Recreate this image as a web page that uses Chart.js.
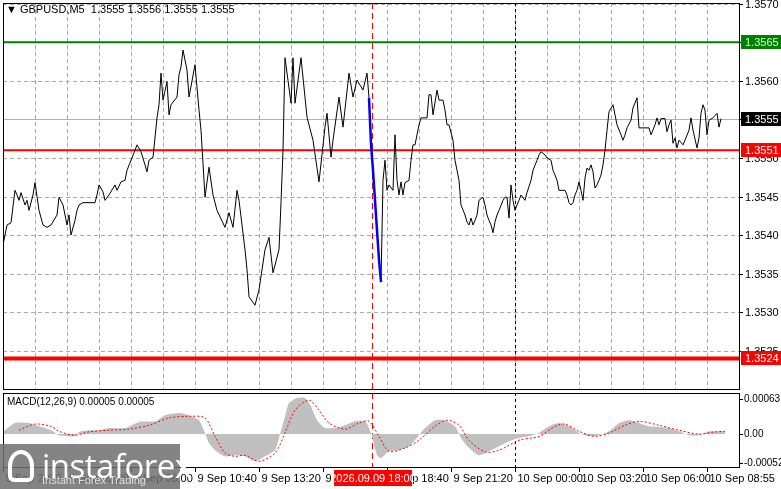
<!DOCTYPE html>
<html><head><meta charset="utf-8">
<script src="https://cdn.jsdelivr.net/npm/chart.js@4/dist/chart.umd.min.js"></script>
<style>
html,body{margin:0;padding:0;background:#fff;width:781px;height:489px;overflow:hidden;font-family:"Liberation Sans",Arial,sans-serif}
canvas{position:absolute;left:0}
#hdr{position:absolute;left:6px;top:3px;font-size:11px;color:#000}
#macdl{position:absolute;left:7px;top:396px;font-size:10px;color:#000}
#logo{position:absolute;left:0;top:444px;width:180px;height:45px;background:rgba(110,110,110,0.85);color:#fff}
#logo .a{position:absolute;left:42px;top:-1px;font-size:33px;letter-spacing:-0.5px;font-family:"Open Sans",sans-serif}
#logo .b{position:absolute;left:42px;top:30px;font-size:11px;color:#e0e0e0}
#logo .ic{position:absolute;left:8px;top:6px;width:26px;height:32px;border:4px solid #fff;border-radius:50% 50% 6px 6px;box-sizing:border-box}
</style></head><body>
<canvas id="main" width="781" height="392" style="top:0"></canvas>
<canvas id="macd" width="781" height="98" style="top:391px"></canvas>
<div id="hdr">&#9660; GBPUSD,M5&nbsp; 1.3555 1.3556 1.3555 1.3555</div>
<div id="macdl">MACD(12,26,9) 0.00005 0.00005</div>
<div id="logo"><div class="ic"></div><div class="a">instaforex</div><div class="b">Instant Forex Trading</div></div>
<script>
// ---- data ----
const priceBars = [0,2,4,6,7,8,9,11,12,13,15,16,18,20,22,24,27,28,30,32,33,34,36,37,38,40,41,43,46,47,48,50,51,53,56,57,59,61,62,64,66,67,69,71,72,73,75,77,78,79,80,82,83,84,87,88,89,90,92,93,96,98,99,100,101,103,105,107,111,113,115,117,118,121,122,123,126,128,131,133,135,138,139,140,141,144,145,146,149,152,155,158,161,162,164,165,168,170,173,175,177,180,182,183,184,185,186,187,188,189,190,191,192,193,195,196,197,198,199,200,201,203,204,205,206,208,209,210,212,213,214,215,217,218,220,221,222,223,225,226,228,229,231,232,233,234,235,236,237,238,240,241,242,243,244,245,246,247,248,250,251,252,253,254,255,256,257,258,259,261,262,264,265,267,268,269,271,272,274,275,276,277,278,280,281,282,283,284,285,286,287,288,289,290,291,292,293,294,295,296,297,298,299,300,301,302,303,305,306,307,309,310,311,312,314,315,317,318,320,321,323,324,326,327,328,329,331,332,333,334,335,336,337,338,340,341,343,344,345,347,348,349,350,351,352,353,355,356,357,358,359];
const priceClose = [1.35387,1.35413,1.35416,1.35458,1.35452,1.35445,1.35455,1.35439,1.35445,1.35432,1.35452,1.35468,1.35432,1.35413,1.35410,1.35413,1.35426,1.35449,1.35439,1.35413,1.35426,1.35400,1.35419,1.35432,1.35439,1.35442,1.35442,1.35442,1.35442,1.35452,1.35465,1.35456,1.35445,1.35452,1.35465,1.35458,1.35469,1.35471,1.35484,1.35497,1.35510,1.35517,1.35508,1.35491,1.35482,1.35497,1.35501,1.35552,1.35569,1.35610,1.35575,1.35599,1.35556,1.35569,1.35579,1.35608,1.35618,1.35640,1.35614,1.35579,1.35621,1.35562,1.35536,1.35493,1.35449,1.35488,1.35452,1.35432,1.35410,1.35429,1.35410,1.35458,1.35445,1.35381,1.35355,1.35320,1.35309,1.35329,1.35381,1.35397,1.35351,1.35381,1.35442,1.35510,1.35630,1.35571,1.35630,1.35571,1.35630,1.35553,1.35523,1.35469,1.35540,1.35558,1.35501,1.35523,1.35579,1.35540,1.35610,1.35579,1.35601,1.35588,1.35610,1.35578,1.35519,1.35484,1.35445,1.35406,1.35368,1.35339,1.35471,1.35497,1.35458,1.35465,1.35458,1.35530,1.35471,1.35452,1.35469,1.35452,1.35468,1.35471,1.35497,1.35517,1.35517,1.35543,1.35552,1.35552,1.35552,1.35582,1.35582,1.35556,1.35588,1.35575,1.35575,1.35562,1.35543,1.35543,1.35523,1.35497,1.35471,1.35439,1.35426,1.35417,1.35413,1.35422,1.35413,1.35419,1.35426,1.35445,1.35449,1.35439,1.35426,1.35419,1.35413,1.35403,1.35417,1.35426,1.35432,1.35445,1.35449,1.35449,1.35422,1.35465,1.35445,1.35432,1.35439,1.35445,1.35452,1.35445,1.35455,1.35471,1.35484,1.35497,1.35504,1.35508,1.35504,1.35500,1.35497,1.35484,1.35478,1.35471,1.35458,1.35458,1.35458,1.35452,1.35442,1.35439,1.35442,1.35452,1.35458,1.35469,1.35458,1.35445,1.35474,1.35487,1.35484,1.35491,1.35482,1.35461,1.35465,1.35471,1.35478,1.35491,1.35510,1.35536,1.35560,1.35569,1.35556,1.35543,1.35530,1.35523,1.35530,1.35539,1.35549,1.35565,1.35578,1.35539,1.35539,1.35539,1.35539,1.35530,1.35543,1.35552,1.35543,1.35551,1.35551,1.35534,1.35543,1.35549,1.35519,1.35526,1.35513,1.35523,1.35517,1.35523,1.35536,1.35552,1.35536,1.35513,1.35526,1.35558,1.35569,1.35562,1.35530,1.35549,1.35552,1.35555,1.35558,1.35540,1.35551];
const dropBars = [183,184,185,186,187,188,189];
const dropClose = [1.35578,1.35519,1.35484,1.35445,1.35406,1.35368,1.35339];
const histBars = [0,6,13,18,24,28,36,38,43,48,53,61,68,76,81,88,93,98,101,103,106,111,116,121,126,131,136,138,141,143,147,151,154,157,161,166,171,176,181,184,187,189,193,198,203,208,211,216,221,226,229,233,238,243,248,253,258,263,268,273,278,283,288,293,298,303,308,313,318,323,328,333,338,343,348,353,358,361];
const histVals = [4,20,20,14,7,-2,-4,4,7,7,11,11,22,23,34,38,34,25,2,-16,-29,-40,-38,-40,-49,-40,-29,-7,32,56,65,65,50,25,11,11,16,23,23,2,-38,-43,-31,-29,-22,-2,11,25,25,14,-7,-25,-38,-31,-22,-13,-7,-4,2,14,20,14,2,-4,-2,5,20,25,20,14,13,11,5,-2,-2,5,5,5];
const sigBars = [8,16,24,28,36,43,53,63,73,83,93,101,106,111,116,121,128,136,141,146,153,158,163,171,178,183,188,193,201,208,216,222,228,233,241,248,258,268,276,281,288,296,303,311,318,328,338,348,356,361];
const sigVals = [7,18,14,5,-2,4,7,9,16,29,32,29,-4,-34,-40,-38,-49,-34,2,43,61,43,20,9,20,23,-4,-31,-25,-11,14,25,16,-11,-32,-29,-11,-4,14,18,5,-4,2,16,23,16,7,0,4,5];
const priceTicks = [1.3525,1.3530,1.3535,1.3540,1.3545,1.3550,1.3555,1.3560,1.3565,1.3570];
const levels = [{v:1.3565,c:'#008000',w:2,t:'#c8ffc8'},{v:1.3551,c:'#ff0000',w:2,t:'#ffffff'},{v:1.3524,c:'#ff0000',w:4,t:'#ffffff'}];
const lastPrice = 1.3555;
const macdTicks = [63,0,-52];
const macdTickLabels = ['0.00063','0.00','-0.00052'];
const timeTickBars = [0,32,64,96,128,160,192,224,256,288,320,352];
const timeTickLabels = ['9 Sep 2026','9 Sep 05:20','9 Sep 08:00','9 Sep 10:40','9 Sep 13:20','9 Sep 16:00','9 Sep 18:40','9 Sep 21:20','10 Sep 00:00','10 Sep 03:20','10 Sep 06:00','10 Sep 08:55'];
const markerBar = 184.5, markerLabel = '2026.09.09 18:00';
const dayBar = 256;
const gridStep = 16;

const XMIN=0, XMAX=368.5;
const FONT='"Liberation Sans", Arial, sans-serif';
const pts=(xs,ys)=>xs.map((x,i)=>({x,y:ys[i]}));

function vlines(ch){
  const c=ch.ctx,a=ch.chartArea,x=ch.scales.x;
  c.save();c.lineWidth=1;
  let px=Math.round(x.getPixelForValue(markerBar))+0.5;
  c.strokeStyle='#ff0000';c.setLineDash([6,4]);c.beginPath();c.moveTo(px,a.top);c.lineTo(px,a.bottom);c.stroke();
  px=Math.round(x.getPixelForValue(dayBar))+0.5;
  c.strokeStyle='#000';c.setLineDash([3,3]);c.beginPath();c.moveTo(px,a.top);c.lineTo(px,a.bottom);c.stroke();
  c.restore();
}
function frame(ch){const c=ch.ctx,a=ch.chartArea;c.save();c.strokeStyle='#000';c.lineWidth=1;c.setLineDash([]);
  c.strokeRect(Math.round(a.left)+0.5,Math.round(a.top)+0.5,Math.round(a.right-a.left)-1,Math.round(a.bottom-a.top)-1);c.restore();}
const hiddenY={position:'right',ticks:{display:false},grid:{display:false},border:{display:false},afterFit:s=>{s.width=41;}};
const hiddenX={type:'linear',min:XMIN,max:XMAX,ticks:{display:false},grid:{display:false},border:{display:false},afterFit:s=>{s.height=0;}};

new Chart(document.getElementById('main'),{
  type:'line',
  data:{datasets:[
    {data:pts(dropBars,dropClose),borderColor:'#0000ff',borderWidth:2.5,pointRadius:0,tension:0,order:0},
    {data:pts(priceBars,priceClose),borderColor:'#000',borderWidth:1,pointRadius:0,tension:0,order:1}
  ]},
  options:{responsive:false,animation:false,devicePixelRatio:1,
    layout:{padding:{left:3,top:3,right:0,bottom:2}},
    plugins:{legend:{display:false},tooltip:{enabled:false}},
    scales:{x:hiddenX,y:Object.assign({},hiddenY,{min:1.35199,max:1.35701})}},
  plugins:[{id:'deco',
    beforeDatasetsDraw(ch){const c=ch.ctx,a=ch.chartArea,y=ch.scales.y,x=ch.scales.x;
      c.save();
      c.strokeStyle='#aaaaaa';c.lineWidth=1;c.setLineDash([4,3]);
      priceTicks.forEach(v=>{const p=Math.round(y.getPixelForValue(v))+0.5;c.beginPath();c.moveTo(a.left,p);c.lineTo(a.right,p);c.stroke();});
      for(let b=gridStep;b<XMAX;b+=gridStep){const p=Math.round(x.getPixelForValue(b))+0.5;c.beginPath();c.moveTo(p,a.top);c.lineTo(p,a.bottom);c.stroke();}
      c.setLineDash([]);
      let py=Math.round(y.getPixelForValue(lastPrice))+0.5;
      c.strokeStyle='#b0b0b0';c.beginPath();c.moveTo(a.left,py);c.lineTo(a.right,py);c.stroke();
      levels.forEach(l=>{const p=y.getPixelForValue(l.v);c.strokeStyle=l.c;c.lineWidth=l.w;c.beginPath();c.moveTo(a.left,p);c.lineTo(a.right,p);c.stroke();});
      c.restore();vlines(ch);},
    afterDraw(ch){const c=ch.ctx,a=ch.chartArea,y=ch.scales.y;frame(ch);
      c.save();c.font='11px '+FONT;c.textBaseline='middle';c.fillStyle='#000';c.strokeStyle='#000';c.lineWidth=1;
      priceTicks.forEach(v=>{const p=Math.round(y.getPixelForValue(v));c.beginPath();c.moveTo(a.right,p+0.5);c.lineTo(a.right+3,p+0.5);c.stroke();
        c.fillText(v.toFixed(4),a.right+5,p+0.5);});
      const box=(v,bg,fg)=>{const p=Math.round(y.getPixelForValue(v));c.fillStyle=bg;c.fillRect(a.right+1,p-7,40,14);c.fillStyle=fg;c.fillText(v.toFixed(4),a.right+5,p+0.5);};
      box(lastPrice,'#000','#fff');
      levels.forEach(l=>box(l.v,l.c,l.t));
      c.restore();}
  }]
});

new Chart(document.getElementById('macd'),{
  type:'line',
  data:{datasets:[
    {data:pts(sigBars,sigVals),borderColor:'#ff0000',borderWidth:1,borderDash:[2,2],pointRadius:0,tension:0.3,order:0},
    {data:pts(histBars,histVals),borderColor:'#c0c0c0',borderWidth:0,backgroundColor:'#c0c0c0',fill:'origin',pointRadius:0,tension:0.2,order:1}
  ]},
  options:{responsive:false,animation:false,devicePixelRatio:1,
    layout:{padding:{left:3,top:2,right:0,bottom:21}},
    plugins:{legend:{display:false},tooltip:{enabled:false}},
    scales:{x:hiddenX,y:Object.assign({},hiddenY,{min:-61,max:74})}},
  plugins:[{id:'deco2',
    beforeDatasetsDraw(ch){vlines(ch);},
    afterDraw(ch){const c=ch.ctx,a=ch.chartArea,x=ch.scales.x,y=ch.scales.y;frame(ch);
      c.save();c.font='10px '+FONT;c.textBaseline='middle';c.fillStyle='#000';c.strokeStyle='#000';c.lineWidth=1;
      macdTicks.forEach((v,i)=>{const p=Math.round(y.getPixelForValue(v));c.beginPath();c.moveTo(a.right,p+0.5);c.lineTo(a.right+3,p+0.5);c.stroke();
        c.fillText(macdTickLabels[i],a.right+4,p+0.5);});
      c.font='11px '+FONT;
      timeTickBars.forEach((b,i)=>{const px=Math.round(x.getPixelForValue(b))+0.5;
        c.beginPath();c.moveTo(px,a.bottom);c.lineTo(px,a.bottom+4);c.stroke();
        c.fillText(timeTickLabels[i],px+2,a.bottom+11);});
      const mx=x.getPixelForValue(markerBar);c.fillStyle='#ff0000';c.fillRect(mx-38,a.bottom+2,78,16);
      c.fillStyle='#fff';c.textAlign='center';c.fillText(markerLabel,mx+1,a.bottom+10.5);
      c.restore();}
  }]
});
</script></body></html>
